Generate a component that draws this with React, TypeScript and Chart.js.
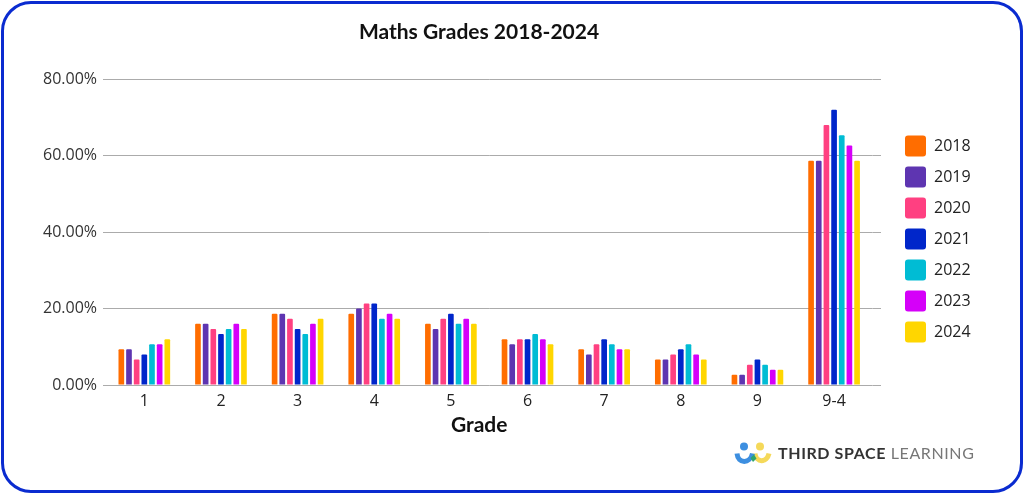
import React, { useEffect, useRef } from "react";
import { Chart, registerables } from "chart.js";

Chart.register(...registerables);

const grades = ["1", "2", "3", "4", "5", "6", "7", "8", "9", "9-4"];
const y2018 = [9.33, 16, 18.67, 18.67, 16, 12, 9.33, 6.67, 2.67, 58.67];
const y2019 = [9.33, 16, 18.67, 20, 14.67, 10.67, 8, 6.67, 2.67, 58.67];
const y2020 = [6.67, 14.67, 17.33, 21.33, 17.33, 12, 10.67, 8, 5.33, 68];
const y2021 = [8, 13.33, 14.67, 21.33, 18.67, 12, 12, 9.33, 6.67, 72];
const y2022 = [10.67, 14.67, 13.33, 17.33, 16, 13.33, 10.67, 10.67, 5.33, 65.33];
const y2023 = [10.67, 16, 16, 18.67, 17.33, 12, 9.33, 8, 4, 62.67];
const y2024 = [12, 14.67, 17.33, 17.33, 16, 10.67, 9.33, 6.67, 4, 58.67];

const seriesNames = ["2018", "2019", "2020", "2021", "2022", "2023", "2024"];
const seriesValues = [y2018, y2019, y2020, y2021, y2022, y2023, y2024];
const seriesColors = ["#FF6D00", "#5E35B1", "#FF4081", "#0026CA", "#00BCD4", "#D500F9", "#FFD600"];

const titleText = "Maths Grades 2018-2024";
const xTitle = "Grade";
const FONT = '"Open Sans", sans-serif';
const TITLE_FONT = 'Lato, sans-serif';

const gridColor = "#ABABAB";

const layoutTweaks = {
  id: "layoutTweaks",
  afterLayout(chart: any) {
    // The reference centres the axis title slightly left of the plot and sets the legend apart from it.
    const x = chart.scales.x;
    x.left -= 10;
    x.right -= 10;
    const l = chart.legend;
    const dx = 895 - l.left;
    l.left += dx;
    l.right += dx;
    l.top -= 8;
    l.bottom -= 8;
  },
  beforeDatasetsDraw(chart: any) {
    // Gridlines run on past the last category.
    const { ctx, chartArea, scales } = chart;
    ctx.save();
    ctx.strokeStyle = gridColor;
    ctx.lineWidth = 1;
    scales.y.ticks.forEach((t: any) => {
      const py = Math.round(scales.y.getPixelForValue(t.value) - 0.5) + 0.5;
      ctx.beginPath();
      ctx.moveTo(chartArea.right, py);
      ctx.lineTo(881, py);
      ctx.stroke();
    });
    ctx.restore();
  },
};

export default function App() {
  const ref = useRef<HTMLCanvasElement>(null);
  useEffect(() => {
    document.body.style.margin = "0";
    const chart = new Chart(ref.current!, {
      type: "bar",
      data: {
        labels: grades,
        datasets: seriesNames.map((name, i) => ({
          label: name,
          data: seriesValues[i],
          backgroundColor: seriesColors[i],
          borderWidth: 0,
          borderRadius: 1,
          categoryPercentage: 0.7,
          barPercentage: 0.74,
        })),
      },
      options: {
        responsive: false,
        animation: false,
        devicePixelRatio: 1,
        layout: { padding: { left: 0, right: 66, top: 0, bottom: 0 } },
        plugins: {
          title: {
            display: true,
            text: titleText,
            color: "#111111",
            font: { family: TITLE_FONT, size: 21, weight: "bold" },
            padding: { top: 20, bottom: 34 },
          },
          legend: {
            position: "right",
            labels: {
              boxWidth: 21,
              boxHeight: 21,
              padding: 10,
              color: "#222222",
              font: { family: FONT, size: 16 },
              useBorderRadius: true,
              borderRadius: 3,
            },
          },
          tooltip: { enabled: false },
        },
        scales: {
          x: {
            afterFit(scale: any) {
              scale.height = 109;
            },
            grid: { display: false, drawTicks: false },
            border: { display: false },
            ticks: { color: "#222222", font: { family: FONT, size: 16 }, padding: 7 },
            title: {
              display: true,
              text: xTitle,
              color: "#111111",
              font: { family: TITLE_FONT, size: 21, weight: "bold" },
              padding: { top: 2, bottom: 56 },
            },
          },
          y: {
            min: 0,
            max: 80,
            afterFit(scale: any) {
              scale.width = 106;
            },
            grid: { color: gridColor, tickLength: 3, tickColor: gridColor },
            border: { display: false },
            ticks: {
              stepSize: 20,
              padding: 6,
              color: "#333333",
              font: { family: FONT, size: 16 },
              callback: (v: any) => Number(v).toFixed(2) + "%",
            },
          },
        },
      },
      plugins: [layoutTweaks],
    } as any);
    return () => chart.destroy();
  }, []);

  return (
    <div style={{ position: "relative", width: 1024, height: 494, background: "#fff", overflow: "hidden" }}>
      <canvas ref={ref} width={1024} height={494} style={{ position: "absolute", left: 0, top: 0, display: "block" }} />
      <div
        style={{
          position: "absolute",
          left: 1,
          top: 1,
          width: 1022,
          height: 492,
          boxSizing: "border-box",
          border: "3px solid #0A2BD0",
          borderRadius: 30,
          pointerEvents: "none",
        }}
      />
      <svg width={40} height={26} viewBox="0 0 40 26" style={{ position: "absolute", left: 733, top: 441 }}>
        <circle cx={11} cy={5.5} r={4} fill="#3D8FE0" />
        <circle cx={27} cy={5.5} r={4} fill="#F5D95A" />
        <path d="M22 12.5 C23 22 34 22 36 12.5" fill="none" stroke="#F5D95A" strokeWidth={5} />
        <path d="M4 12.5 C5 23 17 23 19.5 12.5" fill="none" stroke="#3D8FE0" strokeWidth={5} />
        <path d="M17.5 17 L21 13.5 L23.5 17.5 L20 21 Z" fill="#2FA56F" />
      </svg>
      <div
        style={{
          position: "absolute",
          left: 778,
          top: 442,
          whiteSpace: "nowrap",
          fontFamily: "Lato, sans-serif",
          fontSize: 16,
          lineHeight: "22px",
          letterSpacing: 0.6,
        }}
      >
        <span style={{ fontWeight: 700, color: "#333333" }}>THIRD SPACE</span>{" "}
        <span style={{ fontWeight: 400, color: "#777777" }}>LEARNING</span>
      </div>
    </div>
  );
}
